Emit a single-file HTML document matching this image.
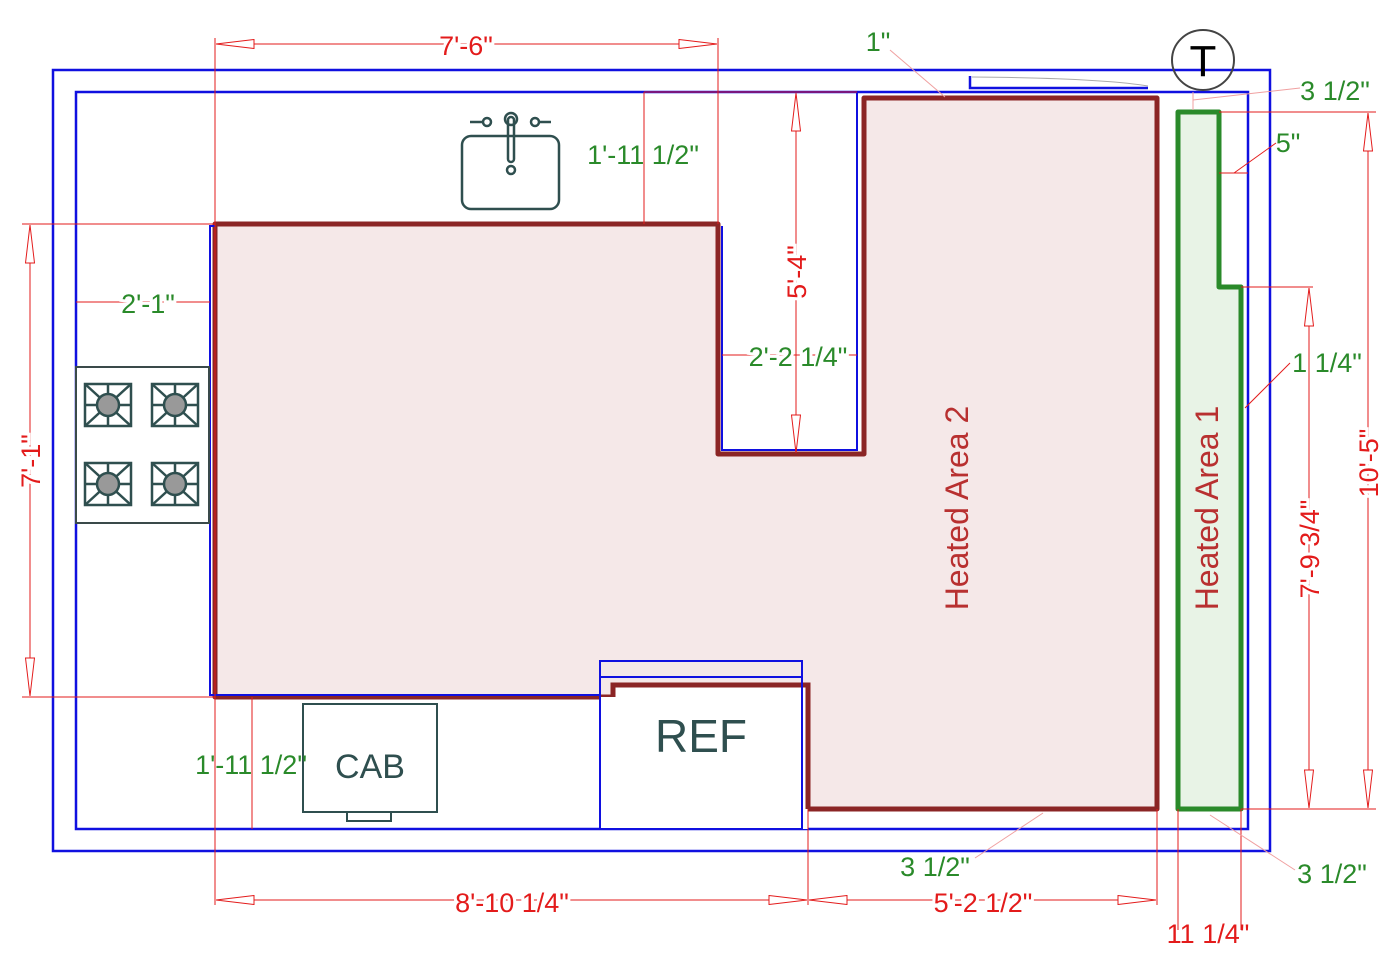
<!DOCTYPE html>
<html><head><meta charset="utf-8"><style>html,body{margin:0;padding:0;background:#fff}svg{display:block}</style></head>
<body>
<svg width="1400" height="974" viewBox="0 0 1400 974" xmlns="http://www.w3.org/2000/svg" font-family="Liberation Sans, sans-serif">
<defs>
<marker id="a" viewBox="0 0 40 10" refX="40" refY="5" markerWidth="40" markerHeight="10" markerUnits="userSpaceOnUse" orient="auto-start-reverse"><path d="M40,5 L2,0.5 L2,9.5 Z" fill="#fff" stroke="#e31b1b" stroke-width="1"/></marker>
</defs>
<!-- walls -->
<rect x="53" y="70" width="1217" height="781" fill="none" stroke="#1010e0" stroke-width="2.5"/>
<rect x="76" y="92" width="1172" height="737" fill="none" stroke="#1010e0" stroke-width="2.5"/>
<!-- heated area 2 -->
<polygon points="215,224 718,224 718,454 864,454 864,98 1157,98 1157,809 808,809 808,685 613,685 613,697 215,697" fill="#f5e8e8" stroke="#8b2525" stroke-width="5" stroke-linejoin="round"/>
<!-- heated area 1 -->
<polygon points="1178,112 1219,112 1219,287 1241,287 1241,809 1178,809" fill="#e8f3e6" stroke="#2a8a2a" stroke-width="5" stroke-linejoin="round"/>
<!-- blue cabinet lines -->
<polyline points="215,226 210,226 210,695 600,695" fill="none" stroke="#1010e0" stroke-width="2"/>
<polyline points="722,226 722,450 857,450 857,92" fill="none" stroke="#1010e0" stroke-width="2"/>
<rect x="600" y="661" width="202" height="168" fill="none" stroke="#1010e0" stroke-width="2"/>
<line x1="600" y1="677" x2="802" y2="677" stroke="#1010e0" stroke-width="2"/>
<polygon points="613,685 808,685 808,829 600,829 600,697 613,697" fill="#fff" stroke="none"/>
<polyline points="613,697 613,685 808,685 808,809" fill="none" stroke="#8b2525" stroke-width="5"/>
<polyline points="600,677 600,829 802,829 802,677" fill="none" stroke="#1010e0" stroke-width="2"/>
<text x="701" y="752" font-size="46" fill="#2f4f4f" text-anchor="middle">REF</text>
<!-- stove -->
<rect x="76" y="367" width="133" height="156" fill="#fff" stroke="#3a4a4a" stroke-width="2"/>
<g stroke="#2f4f4f" stroke-width="2.5" fill="none">
<g transform="translate(108,405)"><rect x="-23" y="-21" width="46" height="42"/><line x1="-23" y1="-21" x2="23" y2="21"/><line x1="23" y1="-21" x2="-23" y2="21"/><line x1="0" y1="-21" x2="0" y2="21"/><line x1="-23" y1="0" x2="23" y2="0"/><circle r="11" fill="#999"/></g>
<g transform="translate(175,405)"><rect x="-23" y="-21" width="46" height="42"/><line x1="-23" y1="-21" x2="23" y2="21"/><line x1="23" y1="-21" x2="-23" y2="21"/><line x1="0" y1="-21" x2="0" y2="21"/><line x1="-23" y1="0" x2="23" y2="0"/><circle r="11" fill="#999"/></g>
<g transform="translate(108,484)"><rect x="-23" y="-21" width="46" height="42"/><line x1="-23" y1="-21" x2="23" y2="21"/><line x1="23" y1="-21" x2="-23" y2="21"/><line x1="0" y1="-21" x2="0" y2="21"/><line x1="-23" y1="0" x2="23" y2="0"/><circle r="11" fill="#999"/></g>
<g transform="translate(175,484)"><rect x="-23" y="-21" width="46" height="42"/><line x1="-23" y1="-21" x2="23" y2="21"/><line x1="23" y1="-21" x2="-23" y2="21"/><line x1="0" y1="-21" x2="0" y2="21"/><line x1="-23" y1="0" x2="23" y2="0"/><circle r="11" fill="#999"/></g>
</g>
<!-- sink -->
<g stroke="#2f4f4f" stroke-width="2.5" fill="none">
<rect x="462" y="136" width="97" height="73" rx="9"/>
<rect x="508" y="117" width="6" height="45" rx="3"/>
<circle cx="511" cy="119" r="6"/>
<circle cx="511" cy="170" r="4"/>
<circle cx="487" cy="122" r="4"/><line x1="470" y1="122" x2="483" y2="122"/>
<circle cx="535" cy="122" r="4"/><line x1="539" y1="122" x2="551" y2="122"/>
</g>
<!-- cab -->
<rect x="303" y="704" width="134" height="108" fill="#fff" stroke="#2f4f4f" stroke-width="2"/>
<rect x="347" y="812" width="44" height="9" fill="#fff" stroke="#2f4f4f" stroke-width="2"/>
<text x="370" y="778" font-size="34" fill="#2f4f4f" text-anchor="middle">CAB</text>
<!-- thermostat / door -->
<polyline points="970,76 970,88 1148,88" fill="none" stroke="#1010e0" stroke-width="2.5"/>
<path d="M972,77 Q1100,78 1148,86" fill="none" stroke="#aaa" stroke-width="1"/>
<ellipse cx="1203" cy="60" rx="31" ry="30" fill="none" stroke="#444" stroke-width="2"/>
<text x="1203" y="76" font-size="44" fill="#000" text-anchor="middle">T</text>
<!-- red dimensions -->
<g stroke="#e31b1b" stroke-width="1" fill="none">
<line x1="215" y1="38" x2="215" y2="905"/>
<line x1="718" y1="38" x2="718" y2="224"/>
<line x1="216" y1="44" x2="717" y2="44" marker-start="url(#a)" marker-end="url(#a)"/>
<line x1="22" y1="224" x2="215" y2="224"/>
<line x1="22" y1="697" x2="215" y2="697"/>
<line x1="30" y1="225" x2="30" y2="696" marker-start="url(#a)" marker-end="url(#a)"/>
<line x1="644" y1="92" x2="644" y2="224"/>
<line x1="644" y1="92" x2="857" y2="92"/>
<line x1="796" y1="93" x2="796" y2="453" marker-start="url(#a)" marker-end="url(#a)"/>
<line x1="722" y1="355" x2="857" y2="355"/>
<line x1="76" y1="302" x2="210" y2="302"/>
<line x1="252" y1="697" x2="252" y2="829"/>
<line x1="808" y1="809" x2="808" y2="905"/>
<line x1="1157" y1="809" x2="1157" y2="905"/>
<line x1="216" y1="900" x2="807" y2="900" marker-start="url(#a)" marker-end="url(#a)"/>
<line x1="809" y1="900" x2="1156" y2="900" marker-start="url(#a)" marker-end="url(#a)"/>
<line x1="1178" y1="809" x2="1178" y2="930"/>
<line x1="1241" y1="809" x2="1241" y2="930"/>
<line x1="1219" y1="112" x2="1376" y2="112"/>
<line x1="1241" y1="809" x2="1376" y2="809"/>
<line x1="1368" y1="113" x2="1368" y2="808" marker-start="url(#a)" marker-end="url(#a)"/>
<line x1="1241" y1="287" x2="1313" y2="287"/>
<line x1="1309" y1="288" x2="1309" y2="808" marker-start="url(#a)" marker-end="url(#a)"/>
<line x1="1219" y1="173" x2="1248" y2="173"/>
<line x1="1234" y1="173" x2="1276" y2="143"/>
<line x1="1245" y1="408" x2="1290" y2="363"/>
</g>
<g stroke="#f0a0a0" stroke-width="1" fill="none">
<line x1="890" y1="50" x2="945" y2="97"/>
<line x1="1193" y1="100" x2="1300" y2="88"/>
<line x1="1193" y1="92" x2="1193" y2="110"/>
<line x1="1043" y1="813" x2="975" y2="858"/>
<line x1="1210" y1="815" x2="1295" y2="870"/>
</g>
<!-- red labels -->
<g fill="#e31b1b" font-size="27" text-anchor="middle">
<text x="466" y="55" style="paint-order:stroke" stroke="#fff" stroke-width="6">7'-6"</text>
<text x="512" y="912" stroke="#fff" stroke-width="6" style="paint-order:stroke">8'-10 1/4"</text>
<text x="983" y="912" stroke="#fff" stroke-width="6" style="paint-order:stroke">5'-2 1/2"</text>
<text x="1208" y="943">11 1/4"</text>
<text transform="translate(40,461) rotate(-90)" stroke="#fff" stroke-width="6" style="paint-order:stroke">7'-1"</text>
<text transform="translate(806,272) rotate(-90)" stroke="#fff" stroke-width="6" style="paint-order:stroke">5'-4"</text>
<text transform="translate(1378,463) rotate(-90)" stroke="#fff" stroke-width="6" style="paint-order:stroke">10'-5"</text>
<text transform="translate(1319,549) rotate(-90)" stroke="#fff" stroke-width="6" style="paint-order:stroke">7'-9 3/4"</text>
</g>
<!-- green labels -->
<g fill="#2a8a2a" font-size="27" text-anchor="middle">
<text x="148" y="313" stroke="#fff" stroke-width="6" style="paint-order:stroke">2'-1"</text>
<text x="643" y="164">1'-11 1/2"</text>
<text x="798" y="366" stroke="#fff" stroke-width="6" style="paint-order:stroke">2'-2 1/4"</text>
<text x="251" y="774">1'-11 1/2"</text>
<text x="878" y="51">1"</text>
<text x="1335" y="100">3 1/2"</text>
<text x="1288" y="152">5"</text>
<text x="1327" y="372">1 1/4"</text>
<text x="935" y="876">3 1/2"</text>
<text x="1332" y="883">3 1/2"</text>
</g>
<text transform="translate(968,508) rotate(-90)" font-size="32" fill="#b83030" text-anchor="middle">Heated Area 2</text>
<text transform="translate(1218,508) rotate(-90)" font-size="32" fill="#b83030" text-anchor="middle">Heated Area 1</text>
</svg>
</body></html>
